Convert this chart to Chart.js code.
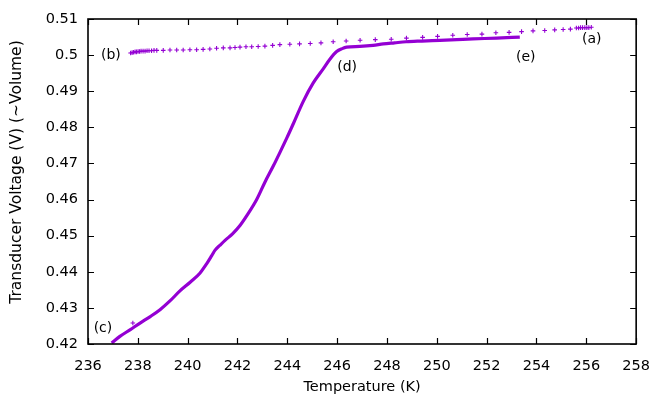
<!DOCTYPE html>
<html>
<head>
<meta charset="utf-8">
<script src="https://cdn.jsdelivr.net/npm/chart.js@4.4.1/dist/chart.umd.min.js"></script>
<style>
html,body{margin:0;padding:0;background:#fff;}
#wrap{width:664px;height:399px;position:relative;}
</style>
</head>
<body>
<div id="wrap"><canvas id="c" width="664" height="399"></canvas></div>
<script>
// Warming (sparse crosses) series: (b) -> (a)
const warmT = [237.71,237.77,237.83,237.89,237.95,238.01,238.07,238.13,238.21,238.29,238.37,238.45,238.55,238.65,238.76,
  239.02,239.29,239.56,239.82,240.09,240.36,240.62,240.89,241.16,241.43,241.70,241.90,242.10,242.34,242.57,242.83,243.10,243.41,
  243.70,244.10,244.49,244.92,245.35,245.84,246.36,246.92,247.53,248.17,248.78,249.43,250.03,250.64,251.22,251.81,252.37,252.90,
  253.40,253.86,254.33,254.73,255.07,255.36,255.60,255.69,255.77,255.85,255.94,256.02,256.10,256.20];
const warmV = [0.5006,0.5007,0.5008,0.5009,0.5009,0.5010,0.5010,0.5011,0.5011,0.5011,0.5012,0.5012,0.5012,0.5013,0.5013,
  0.5013,0.5014,0.5014,0.5014,0.5015,0.5015,0.5016,0.5017,0.5019,0.5020,0.5020,0.5021,0.5022,0.5023,0.5023,0.5024,0.5025,0.5027,
  0.5029,0.5030,0.5031,0.5032,0.5034,0.5037,0.5039,0.5041,0.5043,0.5044,0.5047,0.5049,0.5052,0.5055,0.5057,0.5058,0.5062,0.5063,
  0.5065,0.5067,0.5068,0.5070,0.5071,0.5072,0.5075,0.5075,0.5076,0.5076,0.5076,0.5076,0.5076,0.5077];
// Dense (thick) series: (c) -> (d) -> (e)
const denseT = [236.95,237.28,237.70,238.09,238.50,238.89,239.30,239.69,240.10,240.49,240.76,240.96,241.10,241.29,241.50,241.80,
  242.10,242.40,242.77,243.10,243.43,243.70,243.99,244.24,244.64,245.04,245.44,245.70,245.98,246.20,246.38,246.91,247.44,247.85,
  248.30,248.77,249.40,250.12,250.80,251.45,252.40,253.33];
const denseV = [0.4203,0.4221,0.4240,0.4258,0.4276,0.4295,0.4320,0.4347,0.4371,0.4396,0.4422,0.4444,0.4460,0.4473,0.4487,0.4505,
  0.4528,0.4558,0.4600,0.4648,0.4692,0.4730,0.4772,0.4810,0.4872,0.4923,0.4962,0.4988,0.5010,0.5018,0.5022,0.5024,0.5027,0.5031,
  0.5034,0.5037,0.5039,0.5041,0.5043,0.5045,0.5047,0.5050];
// Stray point near (c)
const strayT = [237.80];
const strayV = [0.4258];
// Annotation labels
const noteText = ['(a)','(b)','(c)','(d)','(e)'];
const noteT = [256.22,236.92,236.60,246.40,253.57];
const noteV = [0.5043,0.4999,0.4243,0.4966,0.4995];
// Axis
const xMin = 236, xMax = 258, xStep = 2;
const yMin = 0.42, yMax = 0.51, yStep = 0.01;
const xTitle = 'Temperature (K)';
const yTitle = 'Transducer Voltage (V) (~Volume)';

const COLOR = '#9400d3';

function pts(T, V){ return T.map((t,i)=>({x:t,y:V[i]})); }

const framePlugin = {
  id:'frame',
  afterDatasetsDraw(chart){
    const {ctx, chartArea:a, scales:{x,y}} = chart;
    ctx.save();
    // notes
    ctx.fillStyle = '#000';
    ctx.font = '14px "DejaVu Sans"';
    ctx.textAlign = 'center';
    ctx.textBaseline = 'middle';
    noteText.forEach((t,i)=>{
      ctx.fillText(t, x.getPixelForValue(noteT[i]), y.getPixelForValue(noteV[i]));
    });
    // frame
    ctx.strokeStyle = '#000';
    ctx.lineWidth = 1.6;
    ctx.strokeRect(a.left, a.top, a.right-a.left, a.bottom-a.top);
    ctx.lineWidth = 1.2;
    const L = 6;
    ctx.beginPath();
    x.ticks.forEach(tk=>{
      const px = Math.round(x.getPixelForValue(tk.value))+0.5;
      ctx.moveTo(px, a.bottom); ctx.lineTo(px, a.bottom-L);
      ctx.moveTo(px, a.top); ctx.lineTo(px, a.top+L);
    });
    y.ticks.forEach(tk=>{
      const py = Math.round(y.getPixelForValue(tk.value))+0.5;
      ctx.moveTo(a.left, py); ctx.lineTo(a.left+L, py);
      ctx.moveTo(a.right, py); ctx.lineTo(a.right-L, py);
    });
    ctx.stroke();
    // axis titles
    ctx.font = '14.5px "DejaVu Sans"';
    ctx.textAlign = 'center';
    ctx.textBaseline = 'middle';
    ctx.fillText(xTitle, (a.left+a.right)/2, 387);
    ctx.font = '15.5px "DejaVu Sans"';
    ctx.translate(17, 172);
    ctx.rotate(-Math.PI/2);
    ctx.fillText(yTitle, 0, 0);
    ctx.restore();
  }
};

new Chart(document.getElementById('c'), {
  type:'scatter',
  data:{
    datasets:[
      {data:pts(denseT,denseV), showLine:true, borderColor:COLOR, borderWidth:3.2, pointRadius:0, cubicInterpolationMode:'monotone', fill:false},
      {data:pts(warmT,warmV), showLine:false, pointStyle:'cross', pointRadius:2.3, borderColor:COLOR, borderWidth:1.1, backgroundColor:COLOR},
      {data:pts(strayT,strayV), showLine:false, pointStyle:'cross', pointRadius:2.3, borderColor:COLOR, borderWidth:1.1, backgroundColor:COLOR}
    ]
  },
  options:{
    responsive:false,
    animation:false,
    layout:{padding:{top:19,right:27,left:0,bottom:0}},
    plugins:{legend:{display:false}, tooltip:{enabled:false}},
    scales:{
      x:{
        type:'linear', min:xMin, max:xMax,
        grid:{display:false, drawTicks:false},
        border:{display:false},
        ticks:{stepSize:xStep, padding:14, color:'#000', font:{family:'DejaVu Sans', size:14.5}, maxRotation:0},
        afterFit(s){ s.height = 55; }
      },
      y:{
        type:'linear', min:yMin, max:yMax,
        grid:{display:false, drawTicks:false},
        border:{display:false},
        ticks:{stepSize:yStep, padding:10, color:'#000', font:{family:'DejaVu Sans', size:14.5},
          callback:(v)=>String(Math.round(v*100)/100)},
        afterFit(s){ s.width = 88; }
      }
    }
  },
  plugins:[framePlugin]
});
</script>
</body>
</html>
